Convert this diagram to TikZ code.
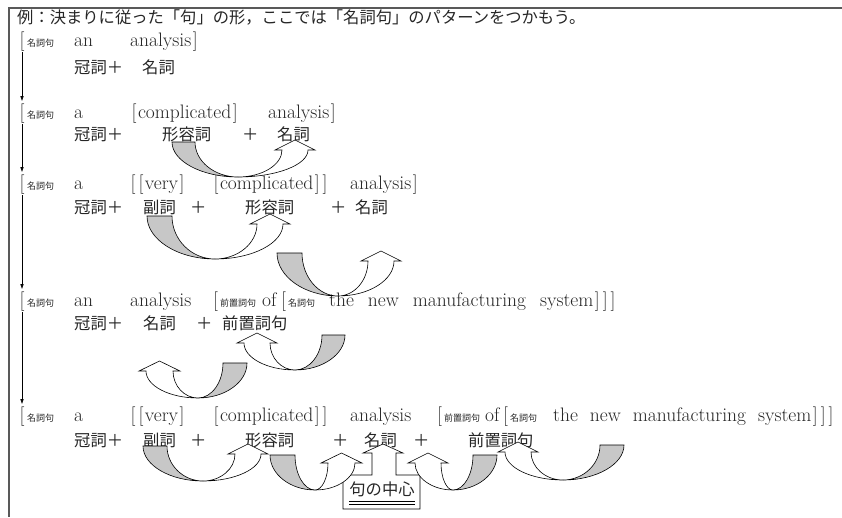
\documentclass[tikz,border=0pt]{standalone}
\usepackage{fontspec}
\newfontfamily\jp{Noto Sans CJK JP}
\usetikzlibrary{arrows.meta}
\newcommand{\LB}{\kern1.5pt[\kern1.5pt}
\newcommand{\RB}{\kern1.5pt]\kern1.5pt}
% #1 outer x of shaded start, #2 inner x, #3 top y, #4 bottom x, #5 bottom y,
% #6 inner x of stem, #7 outer x of stem, #8 stem top y
\newcommand{\ribbonarrow}[8]{%
 \pgfmathsetmacro{\RBs}{ifthenelse(#7>#6,1,-1)}%
 \pgfmathsetmacro{\RBx}{(#6+#7)/2}%
 \filldraw[ribshade] (#1,#3) .. controls (#1,{#3+0.55*(#5-#3)}) and ({#4+0.55*(#1-#4)},#5) .. (#4,#5)
   .. controls ({#4+0.55*(#2-#4)},#5) and (#2,{#3+0.55*(#5-#3)}) .. (#2,#3) -- cycle;
 \filldraw[ribwhite] (#4,#5) .. controls ({#4+0.55*(#6-#4)},#5) and (#6,{#8+0.55*(#5-#8)}) .. (#6,#8)
   -- ({#6-\RBs*7},#8) -- (\RBx,{#8-10}) -- ({#7+\RBs*7},#8) -- (#7,#8)
   .. controls (#7,{#8+0.55*(#5-#8)}) and ({#4+0.55*(#7-#4)},#5) .. (#4,#5) -- cycle;
}
\begin{document}
\begin{tikzpicture}[x=1pt,y=-1pt,
  en/.style={anchor=base west, inner sep=0pt, text=black!85, font=\fontsize{19.5}{21}\selectfont},
  ja/.style={anchor=base west, inner sep=0pt, text=black!85, font=\jp\fontsize{16.3}{18}\selectfont},
  jas/.style={anchor=base west, inner sep=0pt, text=black!85, font=\jp\fontsize{9}{10}\selectfont},
  brk/.style={anchor=base, inner sep=0pt, text=black!85, font=\fontsize{19.5}{21}\selectfont},
  varrow/.style={line width=0.6pt, -{Latex[length=5pt,width=3.5pt]}, shorten >=2pt, shorten <=1pt},
  ribshade/.style={fill=black!22, draw=black, line width=0.6pt},
  ribwhite/.style={fill=white, draw=black, line width=0.6pt},
  frameline/.style={draw=black!65, line width=1.6pt},
  corebox/.style={fill=white, draw=black, line width=0.6pt}]
\useasboundingbox (0,0) rectangle (842,517);
\fill[white] (0,0) rectangle (842,517);
\draw[frameline] (842,8) -- (9,8) -- (9,517);

% title
\node[ja] (title) at (17,23) {例：決まりに従った「句」の形，ここでは「名詞句」のパターンをつかもう。};

% row 1
\node[brk] (br1) at (22,46) {[};
\node[jas] (r1a) at (27,46) {名詞句};
\node[en] (r1b) at (74,46) {an};
\node[en] (r1c) at (130,46) {analysis\RB};
\node[ja] (p1a) at (74,73) {冠詞＋};
\node[ja] (p1b) at (142,73) {名詞};

% row 2
\node[brk] (br2) at (22,118) {[};
\node[jas] (r2a) at (27,118) {名詞句};
\node[en] (r2b) at (74,118) {a};
\node[en] (r2c) at (130,118) {\LB complicated\RB};
\node[en] (r2d) at (268,118) {analysis\RB};
\node[ja] (p2a) at (74,140) {冠詞＋};
\node[ja] (p2b) at (162,140) {形容詞};
\node[ja] (p2c) at (242,140) {＋};
\node[ja] (p2d) at (277,140) {名詞};

% row 3
\node[brk] (br3) at (22,189) {[};
\node[jas] (r3a) at (27,189) {名詞句};
\node[en] (r3b) at (74,189) {a};
\node[en] (r3c) at (129,189) {\LB\LB very\RB};
\node[en] (r3d) at (212,189) {\LB complicated\RB\RB};
\node[en] (r3e) at (350,189) {analysis\RB};
\node[ja] (p3a) at (74,213) {冠詞＋};
\node[ja] (p3b) at (143,213) {副詞};
\node[ja] (p3c) at (190,213) {＋};
\node[ja] (p3d) at (245,213) {形容詞};
\node[ja] (p3e) at (330,213) {＋};
\node[ja] (p3f) at (355,213) {名詞};

% row 4
\node[brk] (br4) at (22,306) {[};
\node[jas] (r4a) at (27,306) {名詞句};
\node[en] (r4b) at (74,306) {an};
\node[en] (r4c) at (130,306) {analysis};
\node[en] (r4d) at (213,306) {[};
\node[jas] (r4e) at (220,306) {前置詞句};
\node[en] (r4f) at (262,306) {of};
\node[en] (r4g) at (281,306) {[};
\node[jas] (r4h) at (288,306) {名詞句};
\node[en] (r4i) at (329,306) {\spaceskip=14pt the new manufacturing system\RB\RB\RB};
\node[ja] (p4a) at (74,329) {冠詞＋};
\node[ja] (p4b) at (143,329) {名詞};
\node[ja] (p4c) at (196,329) {＋};
\node[ja] (p4d) at (222,329) {前置詞句};

% row 5
\node[brk] (br5) at (22,421) {[};
\node[jas] (r5a) at (27,421) {名詞句};
\node[en] (r5b) at (74,421) {a};
\node[en] (r5c) at (129,421) {\LB\LB very\RB};
\node[en] (r5d) at (212,421) {\LB complicated\RB\RB};
\node[en] (r5e) at (350,421) {analysis};
\node[en] (r5f) at (437,421) {[};
\node[jas] (r5g) at (444,421) {前置詞句};
\node[en] (r5h) at (485,421) {of};
\node[en] (r5i) at (503,421) {[};
\node[jas] (r5j) at (510,421) {名詞句};
\node[en] (r5k) at (553,421) {\spaceskip=12pt the new manufacturing system\RB\RB\RB};
\node[ja] (p5a) at (74,446) {冠詞＋};
\node[ja] (p5b) at (143,446) {副詞};
\node[ja] (p5c) at (190,446) {＋};
\node[ja] (p5d) at (245,446) {形容詞};
\node[ja] (p5e) at (332,446) {＋};
\node[ja] (p5f) at (364,446) {名詞};
\node[ja] (p5g) at (413,446) {＋};
\node[ja] (p5h) at (468,446) {前置詞句};

% vertical arrows
\draw[varrow] (br1.south) -- (br2.north);
\draw[varrow] (br2.south) -- (br3.north);
\draw[varrow] (br3.south) -- (br4.north);
\draw[varrow] (br4.south) -- (br5.north);

% head of phrase box
\draw[corebox] (343,509) -- (343,475) -- (372,475) -- (372,453) -- (363,453) -- (383,444)
  -- (403,453) -- (396,453) -- (396,475) -- (420,475) -- (420,509) -- cycle;

% ribbons
\ribbonarrow{172}{195}{142}{238}{177}{282}{308}{150}
\ribbonarrow{147}{172}{216}{215}{259}{257}{283}{224}
\ribbonarrow{277}{302}{253}{338}{296}{368}{394}{261}
\ribbonarrow{345}{322}{335}{295}{370}{270}{244}{343}
\ribbonarrow{247}{223}{363}{198}{398}{173}{146}{371}
\ribbonarrow{143}{167}{446}{203}{481}{235}{261}{454}
\ribbonarrow{270}{295}{455}{315}{490}{328}{355}{463}
\ribbonarrow{497}{473}{455}{453}{490}{441}{415}{463}
\ribbonarrow{624}{600}{445}{563}{480}{531}{505}{452}

\node[ja, anchor=base] (core) at (382,495) {句の中心};
\draw[line width=0.6pt] ([yshift=-6.5pt]core.base west) -- ([yshift=-6.5pt]core.base east);
\draw[line width=0.6pt] ([yshift=-9.5pt]core.base west) -- ([yshift=-9.5pt]core.base east);
\end{tikzpicture}
\end{document}
